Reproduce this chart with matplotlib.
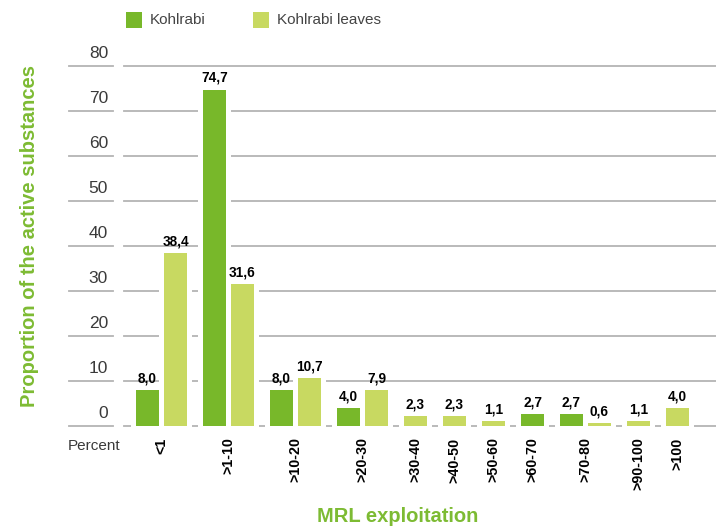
import matplotlib
matplotlib.use("Agg")
import matplotlib.pyplot as plt
from matplotlib.transforms import blended_transform_factory

plt.rcParams['font.family'] = ['Liberation Sans', 'DejaVu Sans']

categories = ["<1", ">1-10", ">10-20", ">20-30", ">30-40", ">40-50",
              ">50-60", ">60-70", ">70-80", ">90-100", ">100"]
kohlrabi = [8.0, 74.7, 8.0, 4.0, 0, 0, 0, 2.7, 2.7, 0, 0]
leaves = [38.4, 31.6, 10.7, 7.9, 2.3, 2.3, 1.1, 0, 0.6, 1.1, 4.0]
series_names = ["Kohlrabi", "Kohlrabi leaves"]
yticks = [0, 10, 20, 30, 40, 50, 60, 70, 80]

c_k = "#78b82a"
c_l = "#c8d961"
c_title = "#7dbb33"
c_grid = "#b4b4b4"
c_text = "#3a3a3a"

W, H = 716, 531
fig = plt.figure(figsize=(W / 100, H / 100), dpi=100)

# axes placement (pixels): y=0 at 426 px, y=80 at 65.7 px
px_per_unit = (426 - 65.7) / 80
ymin, ymax = -1, 81
bot_px = 426 + px_per_unit * (0 - ymin)
top_px = 65.7 - px_per_unit * (ymax - 80)
ax = fig.add_axes([0, (H - bot_px) / H, 1, (bot_px - top_px) / H])
ax.set_ylim(ymin, ymax)

# x layout: bar width = 1 unit (23 px)
bw_px = 23.0
inner = 5 / bw_px
gap = 16 / bw_px
x0_px = 136
ax.set_xlim(-x0_px / bw_px, (W - x0_px) / bw_px)

pos_k, pos_l, centers = [], [], []
cur = 0.0
for k, l in zip(kohlrabi, leaves):
    start = cur
    if k > 0 and l > 0:
        pos_k.append(cur + 0.5)
        pos_l.append(cur + 1 + inner + 0.5)
        cur += 2 + inner
    elif k > 0:
        pos_k.append(cur + 0.5)
        pos_l.append(None)
        cur += 1
    else:
        pos_k.append(None)
        pos_l.append(cur + 0.5)
        cur += 1
    centers.append((start + cur) / 2)
    cur += gap

# gridlines
for t in yticks:
    ax.axhline(t, xmin=69 / W, xmax=113 / W, color=c_grid, lw=1.3, zorder=1)
    ax.axhline(t, xmin=124 / W, xmax=1.0, color=c_grid, lw=1.3, zorder=1)

trans = blended_transform_factory(ax.transAxes, ax.transData)
for t in yticks:
    ax.annotate(str(t), xy=(108 / W, t), xycoords=trans, xytext=(0, 3.5),
                textcoords="offset points", ha="right", va="bottom",
                fontsize=12.5, color=c_text)

halo = 1 + 2 * 5 / bw_px
for xs, vals, col in [(pos_k, kohlrabi, c_k), (pos_l, leaves, c_l)]:
    px = [x for x, v in zip(xs, vals) if x is not None and v > 0]
    pv = [v for x, v in zip(xs, vals) if x is not None and v > 0]
    ax.bar(px, [v + 1 for v in pv], bottom=-1, width=halo, color="white",
           linewidth=0, zorder=2)
    ax.bar(px, pv, width=1, color=col, linewidth=0, zorder=3)
    for x, v in zip(px, pv):
        ax.annotate(f"{v:.1f}".replace(".", ","), xy=(x, v), xytext=(0, 3.3),
                    textcoords="offset points", ha="center", va="bottom",
                    fontsize=9.8, fontweight="bold", color="black", zorder=4)

ax.set_xticks(centers)
ax.set_xticklabels(categories, rotation=90, fontsize=10.3, fontweight="bold",
                   color="black")
ax.tick_params(axis="x", length=0, pad=5)
ax.set_yticks([])
for s in ax.spines.values():
    s.set_visible(False)
ax.patch.set_alpha(0)

fig.text(68 / W, 1 - 446 / H, "Percent", ha="left", va="center",
         fontsize=11, color=c_text)

# legend
for i, (name, col) in enumerate(zip(series_names, [c_k, c_l])):
    lx = [126, 253][i]
    fig.patches.append(plt.Rectangle((lx / W, 1 - 28 / H), 16 / W, 16 / H,
                                     transform=fig.transFigure, color=col,
                                     linewidth=0))
    fig.text((lx + 24) / W, 1 - 20 / H, name, ha="left", va="center",
             fontsize=11, color="#444444")

fig.text(30 / W, 1 - 236 / H, "Proportion of the active substances",
         rotation=90, ha="center", va="center", fontsize=14.5,
         fontweight="bold", color=c_title)
fig.text(398 / W, 1 - 517 / H, "MRL exploitation", ha="center", va="center",
         fontsize=14.5, fontweight="bold", color=c_title)

fig.savefig("out.png", dpi=100)
